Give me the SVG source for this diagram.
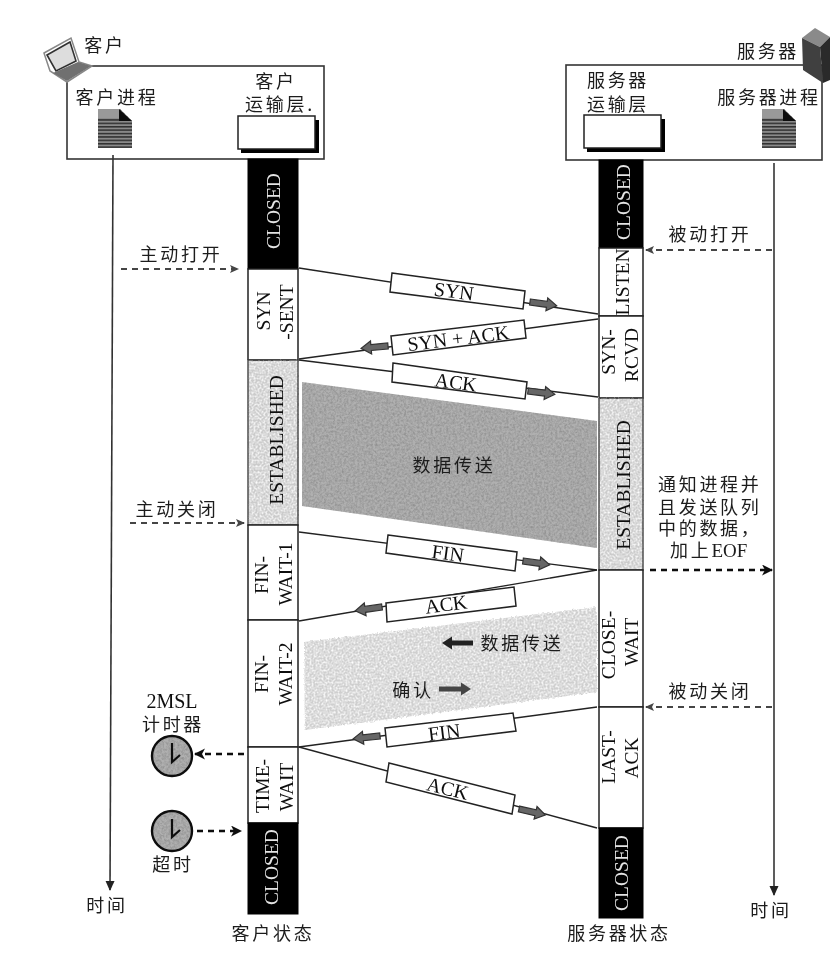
<svg xmlns="http://www.w3.org/2000/svg" width="830" height="954" viewBox="0 0 830 954">
<style>
.ln{fill:none;stroke:#222;stroke-width:1.4}
.time{fill:none;stroke:#333;stroke-width:1.6}
.dash{fill:none;stroke:#444;stroke-width:2;stroke-dasharray:6 5}
.dashk{fill:none;stroke:#111;stroke-width:2.4;stroke-dasharray:6 5}
.box{fill:#fff;stroke:#333;stroke-width:1.6}
.st{fill:#fff;stroke:#222;stroke-width:1.5}
.blk{fill:#000;stroke:#000}
.zh{font-family:"Noto Sans CJK SC",sans-serif;font-size:18px;fill:#1c1c1c;letter-spacing:2.7px;text-anchor:middle}
.en{font-family:"Liberation Serif",serif;font-size:19.5px;fill:#111;text-anchor:middle}
.m{font-size:20px}
.w{fill:#e4e4e4}
.msg{fill:#fff;stroke:#222;stroke-width:1.5}
.ar{fill:#666;stroke:#333;stroke-width:1.2}
.hand{fill:none;stroke:#111;stroke-width:2.2}
</style>
<defs>
<filter id="soft" x="0" y="0" width="100%" height="100%" filterUnits="userSpaceOnUse" primitiveUnits="userSpaceOnUse"><feGaussianBlur stdDeviation="0.45"/></filter>
<filter id="grainD" x="-2%" y="-2%" width="104%" height="104%" color-interpolation-filters="sRGB"><feTurbulence type="fractalNoise" baseFrequency="0.45" numOctaves="3" seed="4" result="n"/><feColorMatrix in="n" values="0 0 0 0 0.5  0 0 0 0 0.5  0 0 0 0 0.5  1.2 0 0 0 -0.4" result="d"/><feGaussianBlur in="d" stdDeviation="0.6" result="b"/><feComposite in="b" in2="SourceAlpha" operator="in" result="dd"/><feMerge><feMergeNode in="SourceGraphic"/><feMergeNode in="dd"/></feMerge></filter>
<filter id="grainL" x="-3%" y="-3%" width="106%" height="106%" color-interpolation-filters="sRGB"><feTurbulence type="fractalNoise" baseFrequency="0.5" numOctaves="2" seed="9" result="n"/><feDisplacementMap in="SourceGraphic" in2="n" scale="4" xChannelSelector="R" yChannelSelector="G" result="s"/><feColorMatrix in="n" values="0 0 0 0 1  0 0 0 0 1  0 0 0 0 1  2 0 0 0 -0.7" result="d"/><feGaussianBlur in="d" stdDeviation="0.6" result="b"/><feComposite in="b" in2="s" operator="in" result="dd"/><feMerge><feMergeNode in="s"/><feMergeNode in="dd"/></feMerge></filter>
<pattern id="lines" width="4" height="3.4" patternUnits="userSpaceOnUse"><rect width="4" height="3.4" fill="#8a8a8a"/><rect width="4" height="1.5" fill="#2e2e2e"/></pattern>
<marker id="ag" markerWidth="10" markerHeight="10" refX="8" refY="4.5" orient="auto" markerUnits="userSpaceOnUse"><path d="M0,0.5L9,4.5L0,8.5L2,4.5Z" fill="#444"/></marker>
<marker id="ak" markerWidth="12" markerHeight="12" refX="10" refY="5.5" orient="auto" markerUnits="userSpaceOnUse"><path d="M0,0L11,5.5L0,11L3,5.5Z" fill="#111"/></marker>
<marker id="at" markerWidth="11" markerHeight="11" refX="9" refY="5" orient="auto" markerUnits="userSpaceOnUse"><path d="M0,0.5L10,5L0,9.5Z" fill="#222"/></marker>
<path id="fatR" class="ar" d="M0,-3H17V-6.5L27,0L17,6.5V3H0Z"/>
<g id="doc"><path d="M0,0H22L34,12V39H0Z" fill="url(#lines)"/><path d="M0,0H22V9H0Z" fill="#999"/><path d="M21,0L34,12H21Z" fill="#111"/></g>
</defs>
<rect width="830" height="954" fill="#fff"/>
<g filter="url(#soft)">

<g id="region-transfer-1"><polygon points="302,382 597,421 597,548 302,506" fill="#b0b0b0" filter="url(#grainD)"/></g>
<g id="region-transfer-2"><polygon points="304,642 597,607 597,692 305,730" fill="#cfcfcf" filter="url(#grainL)"/></g>

<g id="client-box"><rect class="box" x="67" y="66" width="257" height="93"/>
<text class="zh" x="117" y="104">客户进程</text>
<text class="zh" x="276" y="88">客户</text>
<text class="zh" x="280" y="111">运输层.</text>
<rect x="241" y="120" width="78" height="33" fill="#000"/><rect x="238" y="116" width="77" height="33" fill="#fff" stroke="#222" stroke-width="1.5"/>
<use href="#doc" x="98" y="109"/>
</g>
<g id="client-icon"><path d="M44,53L71,38L79,62L92,66L67,82L50,71Z" fill="#fff" stroke="#888" stroke-width="1.5"/><path d="M47,55L70,42L76,61L56,71Z" fill="#ddd" stroke="#333" stroke-width="1.6"/><path d="M53,73L78,62L91,66L67,81Z" fill="#707070"/><text class="zh" x="105" y="52">客户</text></g>
<g id="server-box"><rect class="box" x="566" y="65" width="256" height="95"/>
<text class="zh" x="618" y="87">服务器</text>
<text class="zh" x="618" y="111">运输层</text>
<text class="zh" x="769" y="104">服务器进程</text>
<rect x="587" y="119" width="78" height="33" fill="#000"/><rect x="584" y="115" width="77" height="33" fill="#fff" stroke="#222" stroke-width="1.5"/>
<use href="#doc" x="762" y="109"/>
</g>
<g id="server-icon"><path d="M802,38L815,28L830,37L820,47Z" fill="#8a8a8a"/><path d="M802,38L820,47L823,83L803,70Z" fill="#3f3f3f"/><path d="M820,47L830,37V80L823,83Z" fill="#2b2b2b"/><text class="zh" x="768" y="58">服务器</text></g>

<g id="connectors">
<path class="time" d="M113,155L110,890" marker-end="url(#at)"/>
<path class="time" d="M774,163V895" marker-end="url(#at)"/>
<path class="dash" d="M121,269H238" marker-end="url(#ag)"/>
<path class="dash" d="M772,250H646" marker-end="url(#ag)"/>
<path class="dash" d="M130,523H244" marker-end="url(#ag)"/>
<path class="dashk" d="M650,570H772" marker-end="url(#ak)"/>
<path class="dash" d="M772,707H646" marker-end="url(#ag)"/>
<path class="dashk" d="M244,754H195" marker-end="url(#ak)"/>
<path class="dashk" d="M197,831H241" marker-end="url(#ak)"/>
<path class="ln" d="M299,268L598,314"/>
<path class="ln" d="M598,319L299,359"/>
<path class="ln" d="M299,360L598,397"/>
<path class="ln" d="M299,532L597,570"/>
<path class="ln" d="M597,570L299,621"/>
<path class="ln" d="M597,707L299,747"/>
<path class="ln" d="M299,747L597,828"/>
</g>

<g id="client-states">
<rect class="blk" x="248" y="159" width="50" height="110"/>
<rect class="st" x="248" y="269" width="50" height="91"/>
<rect x="248" y="360" width="50" height="165" fill="#cbcbcb" filter="url(#grainL)"/><rect x="248" y="360" width="50" height="165" fill="none" stroke="#444" stroke-width="1.4"/>
<rect class="st" x="248" y="525" width="50" height="95"/>
<rect class="st" x="248" y="620" width="50" height="127"/>
<rect class="st" x="248" y="747" width="50" height="76"/>
<rect class="blk" x="248" y="823" width="50" height="91"/>
<text class="en w" transform="translate(280,211) rotate(-90)">CLOSED</text>
<text class="en" transform="translate(270,311) rotate(-90)">SYN</text>
<text class="en" transform="translate(293,312) rotate(-90)">-SENT</text>
<text class="en" transform="translate(283,440) rotate(-90)">ESTABLISHED</text>
<text class="en" transform="translate(268,575) rotate(-90)">FIN-</text>
<text class="en" transform="translate(292,574) rotate(-90)">WAIT-1</text>
<text class="en" transform="translate(268,674) rotate(-90)">FIN-</text>
<text class="en" transform="translate(292,674) rotate(-90)">WAIT-2</text>
<text class="en" transform="translate(269,786) rotate(-90)">TIME-</text>
<text class="en" transform="translate(293,787) rotate(-90)">WAIT</text>
<text class="en w" transform="translate(278,867) rotate(-90)">CLOSED</text>
</g>
<g id="server-states">
<rect class="blk" x="599" y="160" width="44" height="88"/>
<rect class="st" x="599" y="248" width="44" height="68"/>
<rect class="st" x="599" y="316" width="44" height="82"/>
<rect x="599" y="398" width="44" height="172" fill="#cbcbcb" filter="url(#grainL)"/><rect x="599" y="398" width="44" height="172" fill="none" stroke="#444" stroke-width="1.4"/>
<rect class="st" x="599" y="570" width="44" height="137"/>
<rect class="st" x="599" y="707" width="44" height="121"/>
<rect class="blk" x="599" y="828" width="44" height="90"/>
<text class="en w" transform="translate(630,202) rotate(-90)">CLOSED</text>
<text class="en" transform="translate(629,282) rotate(-90)">LISTEN</text>
<text class="en" transform="translate(615,352) rotate(-90)">SYN-</text>
<text class="en" transform="translate(638,355) rotate(-90)">RCVD</text>
<text class="en" transform="translate(630,485) rotate(-90)">ESTABLISHED</text>
<text class="en" transform="translate(615,645) rotate(-90)">CLOSE-</text>
<text class="en" transform="translate(638,642) rotate(-90)">WAIT</text>
<text class="en" transform="translate(615,757) rotate(-90)">LAST-</text>
<text class="en" transform="translate(638,758) rotate(-90)">ACK</text>
<text class="en w" transform="translate(628,873) rotate(-90)">CLOSED</text>
</g>

<g id="msg-syn"><polygon class="msg" points="392,273 525,291 523,309 390,292"/><text class="en m" transform="translate(453,298) rotate(7.5)">SYN</text><use href="#fatR" transform="translate(530,302) rotate(8)"/></g>
<g id="msg-synack"><polygon class="msg" points="391,336 524,320 526,338 393,355"/><text class="en m" transform="translate(459,345) rotate(-7)">SYN + ACK</text><use href="#fatR" transform="translate(388,346) rotate(175)"/></g>
<g id="msg-ack1"><polygon class="msg" points="393,363 527,382 525,399 392,382"/><text class="en m" transform="translate(455,389) rotate(7.5)">ACK</text><use href="#fatR" transform="translate(528,391) rotate(7)"/></g>
<g id="msg-fin1"><polygon class="msg" points="388,535 517,552 515,571 386,553"/><text class="en m" transform="translate(447,560) rotate(7.5)">FIN</text><use href="#fatR" transform="translate(523,561) rotate(8)"/></g>
<g id="msg-ack2"><polygon class="msg" points="386,603 514,587 516,606 387,622"/><text class="en m" transform="translate(447,611) rotate(-7.5)">ACK</text><use href="#fatR" transform="translate(382,607) rotate(172)"/></g>
<g id="msg-fin2"><polygon class="msg" points="385,728 513,713 516,731 387,747"/><text class="en m" transform="translate(445,739) rotate(-7)">FIN</text><use href="#fatR" transform="translate(380,736) rotate(174)"/></g>
<g id="msg-ack3"><polygon class="msg" points="389,763 515,795 512,814 386,782"/><text class="en m" transform="translate(446,795) rotate(14)">ACK</text><use href="#fatR" transform="translate(519,809) rotate(13)"/></g>

<g id="labels">
<text class="zh" x="181" y="261">主动打开</text>
<text class="zh" x="710" y="241">被动打开</text>
<text class="zh" x="177" y="516">主动关闭</text>
<text class="zh" x="710" y="698">被动关闭</text>
<text class="zh" x="454" y="472">数据传送</text>
<text class="zh" x="522" y="650">数据传送</text>
<text class="zh" x="413" y="697">确认</text>
<path d="M450,643H473" stroke="#222" stroke-width="5"/><path d="M452,636.5V649.5L442,643Z" fill="#222"/>
<path d="M439,689H462" stroke="#444" stroke-width="5"/><path d="M461,682.5L471,689L461,695.5Z" fill="#444"/>
<text class="zh" style="text-anchor:start"><tspan x="658" y="491">通知进程并</tspan><tspan x="658" y="514">且发送队列</tspan><tspan x="658" y="535">中的数据，</tspan><tspan x="670" y="557">加上<tspan font-family="Liberation Serif, serif" style="letter-spacing:0" font-size="19">EOF</tspan></tspan></text>
<text class="zh" x="107" y="912">时间</text>
<text class="zh" x="771" y="917">时间</text>
<text class="zh" x="273" y="940">客户状态</text>
<text class="zh" x="619" y="940">服务器状态</text>
<text class="en m" x="172" y="708">2MSL</text>
<text class="zh" x="173" y="731">计时器</text>
<text class="zh" x="173" y="871">超时</text>
</g>

<g id="clock-2msl"><circle cx="172" cy="756" r="20" fill="#b0b0b0" filter="url(#grainD)"/><circle cx="172" cy="756" r="20" fill="none" stroke="#111" stroke-width="2.4"/><path class="hand" d="M172,743V762L180,755"/></g>
<g id="clock-timeout"><circle cx="172" cy="831" r="20" fill="#b0b0b0" filter="url(#grainD)"/><circle cx="172" cy="831" r="20" fill="none" stroke="#111" stroke-width="2.4"/><path class="hand" d="M172,819V837L180,830"/></g>
</g>
</svg>
